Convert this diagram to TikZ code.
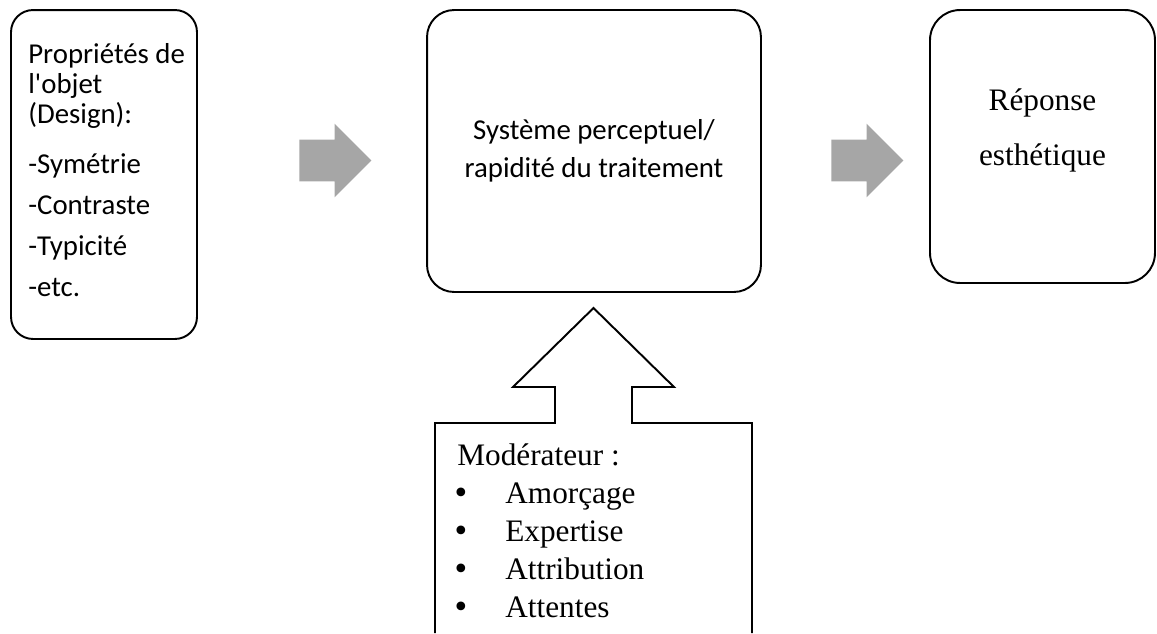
\documentclass[tikz,border=0pt]{standalone}
\usepackage{fontspec}
\setmainfont{Liberation Serif}
\newfontfamily\calibrifont{Carlito}
\newfontfamily\bulletfont{DejaVu Sans}
\usetikzlibrary{shapes.arrows}
\definecolor{arrowgrey}{RGB}{166,166,166}
\tikzset{
	roundbox/.style={draw, line width=1.1pt, rectangle, rounded corners=#1, inner sep=0pt},
	greyarrow/.style={single arrow, fill=arrowgrey, draw=none, minimum height=1.44cm, minimum width=1.46cm, single arrow head extend=0.32cm, inner sep=0.41cm},
	sanstext/.style={font=\calibrifont\fontsize{16.4}{21.5}\selectfont, inner sep=0pt},
	seriftext/.style={font=\fontsize{17.8}{21}\selectfont, inner sep=0pt},
	bullettext/.style={font=\bulletfont\fontsize{17}{20}\selectfont, inner sep=0pt},
}

\begin{document}
\begin{tikzpicture}[x=0.02cm, y=-0.02cm]
			\useasboundingbox (0,0) rectangle (1157,633);
			% boxes
			\node[roundbox=0.44cm, minimum width=3.72cm, minimum height=6.58cm] (design) at (104,174.5) {};
			\node[roundbox=0.54cm, minimum width=6.68cm, minimum height=5.64cm, sanstext, align=center] (percept) at (594,151) {Système perceptuel/\\rapidité du traitement};
			\node[roundbox=0.6cm, minimum width=4.5cm, minimum height=5.46cm] (reponse) at (1042.5,146.5) {};
			% texts
			\foreach \txt/\yy [count=\i] in {Propriétés de/63, l'objet/93, (Design):/123, -Symétrie/173, -Contraste/214, -Typicité/255, -etc./296}{
				\node[sanstext, anchor=base west] (prop\i) at (28,\yy) {\txt};
			}
			\node[seriftext, anchor=base] (rep1) at (1042.5,110) {Réponse};
			\node[seriftext, anchor=base] (rep2) at (1042.5,165) {esthétique};
			% grey arrows
			\node[greyarrow] (arrowA) at (325,160.5) {};
			\node[greyarrow] (arrowB) at (857,160.5) {};
			% moderator arrow
			\draw[line width=1.1pt, line join=miter] (435,633) -- (435,423) -- (555,423) -- (555,387) -- (513,387) -- (593.5,308) -- (674,387) -- (632,387) -- (632,423) -- (752,423) -- (752,633);
			\node[seriftext, anchor=base west] (moder) at (457,465) {Modérateur :};
			\foreach \itm/\yy [count=\i] in {Amorçage/503, Expertise/541, Attribution/579, Attentes/617}{
				\node[bullettext, anchor=base west] (bul\i) at (452,\yy) {•};
				\node[seriftext, anchor=base west] (itm\i) at (505,\yy) {\itm};
			}
		\end{tikzpicture}
\end{document}
